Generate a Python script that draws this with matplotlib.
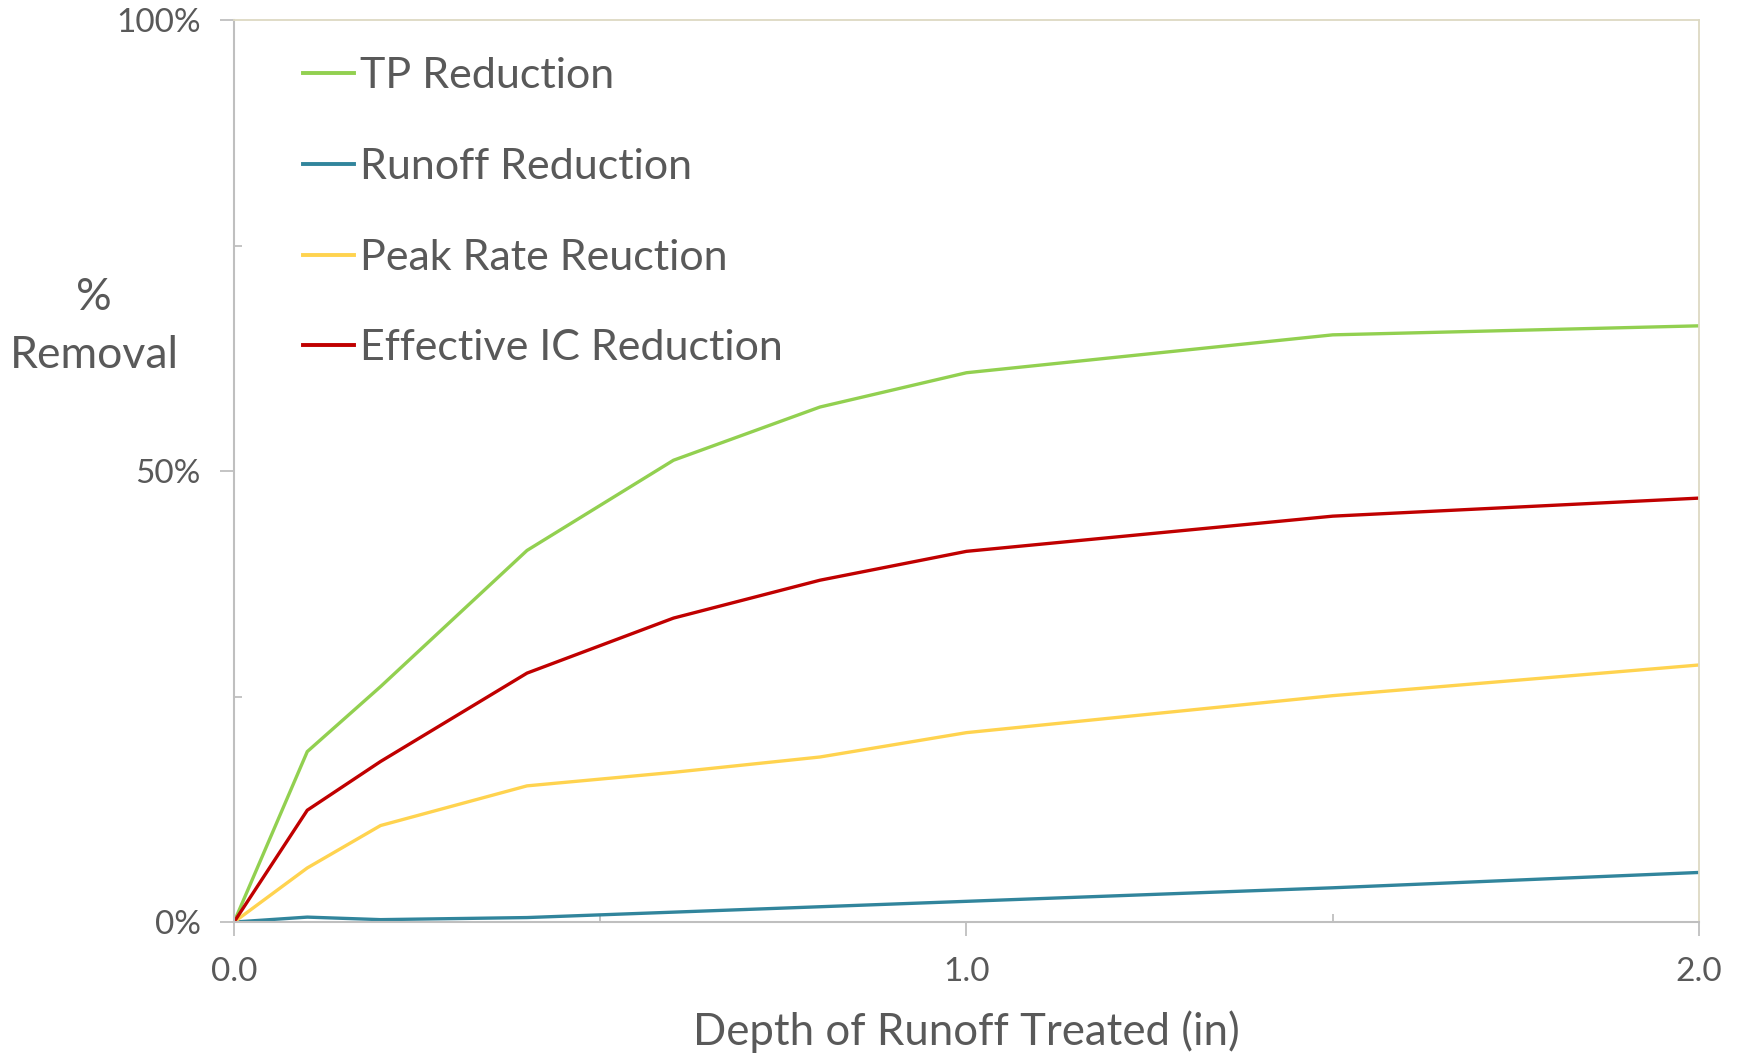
import matplotlib
matplotlib.use("Agg")
import matplotlib.pyplot as plt
from matplotlib.ticker import FixedLocator, FuncFormatter

plt.rcParams['font.family'] = ['Lato', 'DejaVu Sans']

depth = [0.0, 0.1, 0.2, 0.4, 0.6, 0.8, 1.0, 1.5, 2.0]
tp_reduction = [0.0, 18.9, 26.1, 41.2, 51.2, 57.1, 60.9, 65.1, 66.1]
runoff_reduction = [0.0, 0.55, 0.27, 0.5, 1.1, 1.7, 2.3, 3.8, 5.5]
peak_rate_reduction = [0.0, 6.0, 10.7, 15.1, 16.6, 18.3, 21.0, 25.1, 28.5]
effective_ic_reduction = [0.0, 12.4, 17.8, 27.6, 33.7, 37.9, 41.1, 45.0, 47.0]

series_labels = ["TP Reduction", "Runoff Reduction", "Peak Rate Reuction", "Effective IC Reduction"]
series_colors = ["#92D050", "#31859C", "#FFD34F", "#C00000"]

x_major = [0.0, 1.0, 2.0]
x_minor = [0.5, 1.5]
y_major = [0, 50, 100]
y_minor = [25, 75]

TXT = "#595959"
GRAY = "#BFBFBF"
BORDER = "#DDD9C3"

fig = plt.figure(figsize=(17.4, 10.55), dpi=100)
ax = fig.add_axes([0.1345, 0.126, 0.9764 - 0.1345, 0.981 - 0.126])

data = [tp_reduction, runoff_reduction, peak_rate_reduction, effective_ic_reduction]
for vals, lab, col in zip(data, series_labels, series_colors):
    ax.plot(depth, vals, color=col, lw=2.4, label=lab, solid_joinstyle='miter')

ax.set_xlim(0, 2.0)
ax.set_ylim(0, 100)

ax.xaxis.set_major_locator(FixedLocator(x_major))
ax.xaxis.set_minor_locator(FixedLocator(x_minor))
ax.yaxis.set_major_locator(FixedLocator(y_major))
ax.yaxis.set_minor_locator(FixedLocator(y_minor))
ax.xaxis.set_major_formatter(FuncFormatter(lambda v, p: f"{v:.1f}"))
ax.yaxis.set_major_formatter(FuncFormatter(lambda v, p: f"{v:.0f}%"))

ax.tick_params(axis='both', which='major', direction='out', length=10, width=1.3,
               color=GRAY, labelcolor=TXT, labelsize=24)
ax.tick_params(axis='both', which='minor', direction='in', length=6, width=1.3, color=GRAY)
ax.tick_params(axis='x', which='major', pad=15)
ax.tick_params(axis='y', which='major', pad=14)

for s in ['left', 'bottom']:
    ax.spines[s].set_color(GRAY)
    ax.spines[s].set_linewidth(1.5)
for s in ['top', 'right']:
    ax.spines[s].set_color(BORDER)
    ax.spines[s].set_linewidth(1.3)

leg = ax.legend(loc='upper left', bbox_to_anchor=(0.035, 0.978), frameon=False,
                fontsize=31, handlelength=1.2, handletextpad=0.13,
                labelspacing=1.225, borderaxespad=0)
for t in leg.get_texts():
    t.set_color(TXT)
for l in leg.get_lines():
    l.set_linewidth(2.8)

fig.text(94 / 1740, 1 - 297 / 1055, "%", ha='center', va='center', fontsize=32, color=TXT)
fig.text(94 / 1740, 1 - 355 / 1055, "Removal", ha='center', va='center', fontsize=32, color=TXT)
fig.text(966 / 1740, 1 - 1032 / 1055, "Depth of Runoff Treated (in)", ha='center', va='center',
         fontsize=31.5, color=TXT)

fig.savefig("out.png", dpi=100, facecolor='white')
